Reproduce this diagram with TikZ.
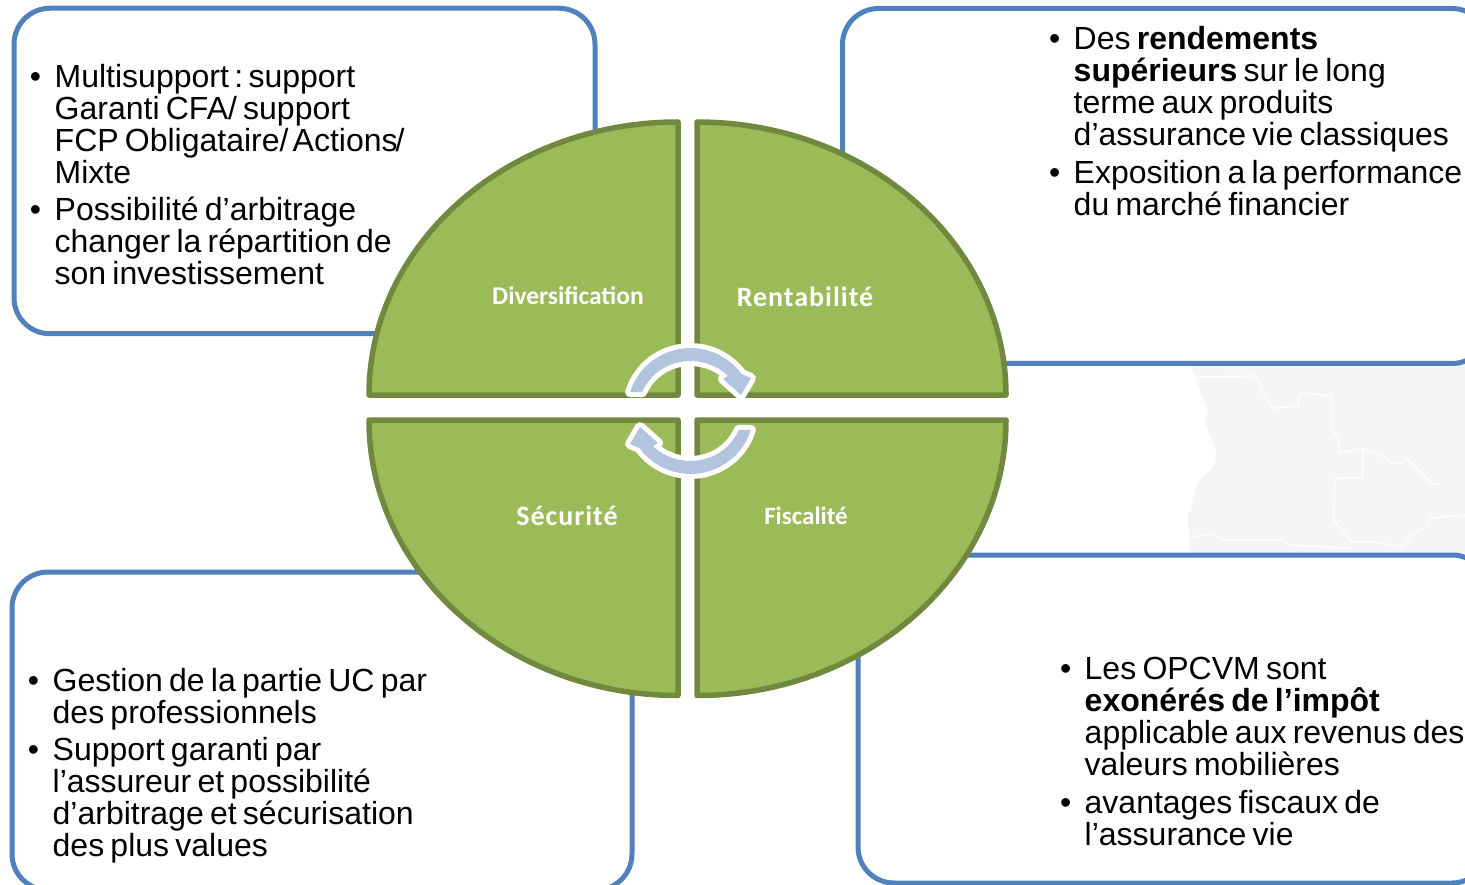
\documentclass[tikz,border=0pt]{standalone}
\usepackage{fontspec}
\usepackage{tikz}
\setmainfont[WordSpace=0.7]{Liberation Sans}
\newfontfamily\labelfont{Carlito}
\newcommand{\puce}{\llap{\textbullet\hspace{13.5pt}}}
\definecolor{panelblue}{HTML}{4F81BD}
\definecolor{leafgreen}{HTML}{9BBB59}
\definecolor{leafedge}{HTML}{71893F}
\definecolor{turnblue}{HTML}{B3C4DF}

\begin{document}
\begin{tikzpicture}[
    x=1pt, y=-1pt,
    panel/.style={rectangle, draw=panelblue, fill=white, line width=5pt, rounded corners=36pt},
    leaf/.style={draw=leafedge, fill=leafgreen, line width=5.5pt, line join=round},
    title/.style={text=white, inner sep=0pt, font=\labelfont\bfseries\fontsize{#1}{#1}\selectfont},
    points/.style={anchor=north west, align=left, inner sep=0pt, font=\fontsize{32}{32}\selectfont},
    turn/.style={fill=turnblue, preaction={draw=white, line width=10pt, line join=round}},
    border/.style={draw=white, line width=1.2pt}
]
\useasboundingbox (0,0) rectangle (1465,885);

% Map behind the panels
\fill[black!4] (1190,363) -- (1208,413) -- (1205,423) -- (1216,450) -- (1215,465) -- (1197,483) -- (1188,517) -- (1190,556) -- (1465,556) -- (1465,363) -- cycle;
\begin{scope}[shift={(960,340)}, scale=1/3]
\draw[border] (695,110) -- (890,108) -- (910,160) -- (940,205) -- (1015,198) -- (1020,158) -- (1115,168) -- (1115,260) -- (1135,300) -- (1137,338) -- (1210,325) -- (1265,345) -- (1290,368) -- (1325,370) -- (1340,355) -- (1415,430) -- (1445,432);
\draw[border] (1210,325) -- (1207,412) -- (1125,415) -- (1120,540) -- (1175,605) -- (1240,605) -- (1325,620) -- (1360,580) -- (1405,560) -- (1410,535) -- (1515,525);
\draw[border] (695,590) -- (760,582) -- (785,600) -- (970,600) -- (990,615) -- (1175,625);
\end{scope}

% Panels
\node (divbox) [panel, minimum width=581pt, minimum height=325.5pt] at (304.5,171) {};
\node (renbox) [panel, minimum width=645.5pt, minimum height=355pt] at (1165.25,186) {};
\node (secbox) [panel, minimum width=620pt, minimum height=318pt] at (322,731) {};
\node (fisbox) [panel, minimum width=630pt, minimum height=328pt] at (1173,719) {};

% Quarters
\draw[leaf] (678,395) -- (678,122) arc[start angle=-90, end angle=-180, x radius=309, y radius=273] -- cycle;
\draw[leaf] (697,395) -- (697,122) arc[start angle=-90, end angle=0, x radius=309, y radius=273] -- cycle;
\draw[leaf] (678,420) -- (678,695.5) arc[start angle=90, end angle=180, x radius=309, y radius=275.5] -- cycle;
\draw[leaf] (697,420) -- (697,695.5) arc[start angle=90, end angle=0, x radius=309, y radius=275.5] -- cycle;

% Turning arrows
\foreach \rot in {0,180} {
  \path[turn, rotate around={\rot:(690.5,411)}] (630.2,392) arc[start angle=-163, end angle=-35.5, x radius=63, y radius=62]
    -- (751,378) -- (741,395) -- (723,379) -- (728,376) arc[start angle=-44, end angle=-158.5, x radius=52, y radius=49] -- cycle;
}

% Titles
\node (divtitle) [title=25.5] at (568,296) {Diversification};
\node (rentitle) [title=28] at (805,297) {\addfontfeature{LetterSpace=3.5}Rentabilité};
\node (sectitle) [title=28] at (567,516) {\addfontfeature{LetterSpace=3.5}Sécurité};
\node (fistitle) [title=25] at (806,516) {Fiscalité};

% Texts
\node (divtext) [points] at (54.5,64) {\puce Multisupport\,:\,support\\Garanti CFA/ support\\FCP Obligataire/\kern-2pt\ Actions\kern-2pt/\\Mixte\\[5pt]
  \puce Possibilité d’arbitrage\\changer la répartition de\\son investissement};
\node (rentext) [points] at (1073.5,26) {\puce Des \textbf{rendements}\\\textbf{supérieurs} sur le long\\terme aux produits\\d’assurance vie classiques\\[6pt]
  \puce Exposition a la performance\\du marché financier};
\node (sectext) [points] at (52.5,668) {\puce Gestion de la partie UC par\\des professionnels\\[5pt]
  \puce Support garanti par\\l’assureur et possibilité\\d’arbitrage et sécurisation\\des plus values};
\node (fistext) [points] at (1084.5,657) {\puce Les OPCVM sont\\\textbf{exonérés de l’impôt}\\applicable aux revenus des\\valeurs mobilières\\[6pt]
  \puce avantages fiscaux de\\l’assurance vie};

\end{tikzpicture}
\end{document}
